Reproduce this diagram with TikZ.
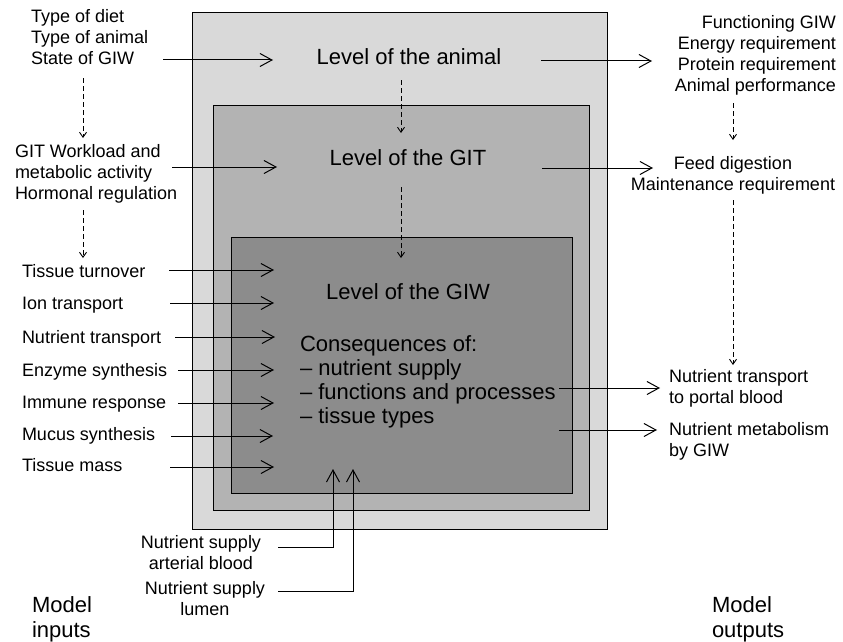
\documentclass[tikz,border=0pt]{standalone}
\usepackage{fontspec}
\setmainfont{Liberation Sans}
\usetikzlibrary{arrows.meta}
\definecolor{outerfill}{RGB}{217,217,217}
\definecolor{midfill}{RGB}{179,179,179}
\definecolor{innerfill}{RGB}{140,140,140}
\tikzset{
  smalltxt/.style={font=\fontsize{18}{21}\selectfont, inner sep=0pt, outer sep=0pt},
  bigtxt/.style={font=\fontsize{22}{24}\selectfont, inner sep=0pt, outer sep=0pt},
  modeltxt/.style={font=\fontsize{22}{25}\selectfont, inner sep=0pt, outer sep=0pt},
  levelbox/.style={draw=black, line width=1pt, inner sep=0pt, outer sep=0pt},
  arr/.style={line width=1pt, -{Straight Barb[length=12pt,width=13pt,line width=1pt]}},
  darr/.style={line width=0.9pt, dash pattern=on 5pt off 3pt, -{Straight Barb[length=5pt,width=7pt,line width=0.9pt]}},
  supline/.style={line width=1pt, -{Straight Barb[length=12pt,width=13pt,line width=1pt]}},
}
\begin{document}
\begin{tikzpicture}[x=1pt,y=-1pt]
\useasboundingbox (0,0) rectangle (843,642);
% level boxes
\node[levelbox, fill=outerfill, minimum width=415pt, minimum height=516pt] (outer) at (399.5,271) {};
\node[levelbox, fill=midfill, minimum width=376pt, minimum height=405pt] (middle) at (401,307.5) {};
\node[levelbox, fill=innerfill, minimum width=341pt, minimum height=256pt] (inner) at (401.5,365) {};

% level texts (multi-line nodes are anchored at the baseline of their last line)
\node[bigtxt, anchor=base] (lanimal) at (409,65) {Level of the animal};
\node[bigtxt, anchor=base] (lgit) at (408,165) {Level of the GIT};
\node[bigtxt, anchor=base] (lgiw) at (408,299) {Level of the GIW};
\node[bigtxt, anchor=base west, align=left] (conseq) at (300,423) {Consequences of:\\\textendash\ nutrient supply\\\textendash\ functions and processes\\\textendash\ tissue types};

% left inputs
\node[smalltxt, anchor=base west, align=left] (in1) at (31,65) {Type of diet\\Type of animal\\State of GIW};
\node[smalltxt, anchor=base west, align=left] (in2) at (15,199) {GIT Workload and\\metabolic activity\\Hormonal regulation};
\node[smalltxt, anchor=base west] (t1) at (22,277) {Tissue turnover};
\node[smalltxt, anchor=base west] (t2) at (22,309) {Ion transport};
\node[smalltxt, anchor=base west] (t3) at (22,343) {Nutrient transport};
\node[smalltxt, anchor=base west] (t4) at (22,376) {Enzyme synthesis};
\node[smalltxt, anchor=base west] (t5) at (22,408) {Immune response};
\node[smalltxt, anchor=base west] (t6) at (22,440) {Mucus synthesis};
\node[smalltxt, anchor=base west] (t7) at (22,471) {Tissue mass};
\node[smalltxt, anchor=base, align=center] (ns1) at (201,569) {Nutrient supply\\arterial blood};
\node[smalltxt, anchor=base, align=center] (ns2) at (205,615) {Nutrient supply\\lumen};
\node[modeltxt, anchor=base west, align=left] (minputs) at (32,637) {Model\\inputs};

% right outputs
\node[smalltxt, anchor=base east, align=right] (out1) at (836,92) {Functioning GIW\\Energy requirement\\Protein requirement\\Animal performance};
\node[smalltxt, anchor=base, align=center] (out2) at (733,190) {Feed digestion\\Maintenance requirement};
\node[smalltxt, anchor=base west, align=left] (out3) at (669,403) {Nutrient transport\\to portal blood};
\node[smalltxt, anchor=base west, align=left] (out4) at (669,456) {Nutrient metabolism\\by GIW};
\node[modeltxt, anchor=base west, align=left] (moutputs) at (712,637) {Model\\outputs};

% coordinates for connector ends
\coordinate (a1s) at (163,60);  \coordinate (a1e) at (273,60);
\coordinate (a2s) at (541,61);  \coordinate (a2e) at (652,61);
\coordinate (a3s) at (172,167); \coordinate (a3e) at (277,167);
\coordinate (a4s) at (542,168); \coordinate (a4e) at (653,168);
\coordinate (b1s) at (169,270); \coordinate (b1e) at (274,270);
\coordinate (b2s) at (170,303); \coordinate (b2e) at (274,303);
\coordinate (b3s) at (175,337); \coordinate (b3e) at (275,337);
\coordinate (b4s) at (178,370); \coordinate (b4e) at (274,370);
\coordinate (b5s) at (178,403); \coordinate (b5e) at (274,403);
\coordinate (b6s) at (171,436); \coordinate (b6e) at (273,436);
\coordinate (b7s) at (170,467); \coordinate (b7e) at (274,467);
\coordinate (c1s) at (559,388); \coordinate (c1e) at (660,388);
\coordinate (c2s) at (559,430); \coordinate (c2e) at (657,430);
\coordinate (u1s) at (278,547); \coordinate (u1e) at (333,469);
\coordinate (u2s) at (278,591); \coordinate (u2e) at (353,469);
\coordinate (d1s) at (83,78);   \coordinate (d1e) at (83,138);
\coordinate (d2s) at (83,210);  \coordinate (d2e) at (83,258);
\coordinate (d3s) at (401,80);  \coordinate (d3e) at (401,133);
\coordinate (d4s) at (401,187); \coordinate (d4e) at (401,258);
\coordinate (d5s) at (733,103); \coordinate (d5e) at (733,140);
\coordinate (d6s) at (733,200); \coordinate (d6e) at (733,365);

% solid connectors
\draw[arr] (a1s) -- (a1e);
\draw[arr] (a2s) -- (a2e);
\draw[arr] (a3s) -- (a3e);
\draw[arr] (a4s) -- (a4e);
\draw[arr] (b1s) -- (b1e);
\draw[arr] (b2s) -- (b2e);
\draw[arr] (b3s) -- (b3e);
\draw[arr] (b4s) -- (b4e);
\draw[arr] (b5s) -- (b5e);
\draw[arr] (b6s) -- (b6e);
\draw[arr] (b7s) -- (b7e);
\draw[arr] (c1s) -- (c1e);
\draw[arr] (c2s) -- (c2e);
\draw[supline] (u1s) -| (u1e);
\draw[supline] (u2s) -| (u2e);

% dashed connectors
\draw[darr] (d1s) -- (d1e);
\draw[darr] (d2s) -- (d2e);
\draw[darr] (d3s) -- (d3e);
\draw[darr] (d4s) -- (d4e);
\draw[darr] (d5s) -- (d5e);
\draw[darr] (d6s) -- (d6e);
\end{tikzpicture}
\end{document}
